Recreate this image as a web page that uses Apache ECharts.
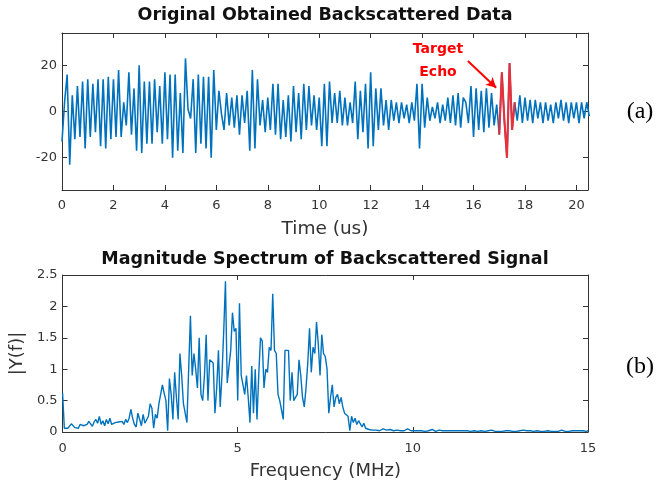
<!DOCTYPE html>
<html>
<head>
<meta charset="utf-8">
<script src="https://cdn.jsdelivr.net/npm/echarts@6/dist/echarts.min.js"></script>
<style>
  html, body { margin: 0; padding: 0; background: #fff; }
  #chart { width: 667px; height: 484px; }
</style>
</head>
<body>
<div id="chart"></div>
<script>
// sample spacing of the two traces
const timeStep = 0.1;  // us
const freqStep = 0.05; // MHz

// backscattered signal, 10 samples per microsecond
const signal = [
  -13, 4, 16, -23, 7, -12, 11, -11, 13, -16,
  14, -11, 12, -9, 14, -15, 14, -16, 15, -12,
  14, -11, 18, -11, 4, -6, 17, -10, 10, -17,
  20, -18, 13, -14, 13, -14, 14, -9, 11, -14,
  17, -12, 16, -20, 16, -17, 8, -18, 23, 1,
  -3, 14, -18, 16, -14, 15, -16, 15, -20, 18,
  -8, 9, -1, -8, 8, -6, 6, -7, 7, -10,
  7, -5, 9, -17, 18, -16, 14, -6, 5, -9,
  6, -8, 12, -10, 12, -12, 5, -11, 7, -13,
  11, -9, 8, -12, 12, -8, 11, -6, 7, -8,
  6, -15, 12, -15, 13, -5, 8, -5, 9, -6,
  6, -6, 4, -5, 13, -12, 9, -9, 12, -16,
  17, -15, 10, -8, 10, -6, 5, -8, 5, -4,
  4, -5, 4, -3, 3, -5, 4, -4, 12, -16,
  12, -7, 6, -4, 2, -3, 4, -5, 3, -4,
  6, -5, 7, -6, 8, -7, 6, 4, -5, 11,
  -11, 10, -8, 9, -9, 10, -7, 8, -6, 3,
  -10, 17, -4, -20, 21, -8, 4, -4, 7, -5,
  6, -4, 5, -5, 5, -3, 4, -5, 4, -4,
  3, -5, 4, -3, 5, -4, 4, -5, 4, -3,
  4, -5, 4, -3, 4, -2
];
// samples belonging to the target echo (drawn in red)
const echoFirst = 170;
const echoLast = 176;

// magnitude spectrum, 0 .. 15 MHz
const spectrum = [
  0.62, 0.06, 0.07, 0.06, 0.09, 0.13, 0.10, 0.07, 0.09, 0.06,
  0.12, 0.15, 0.10, 0.08, 0.12, 0.17, 0.13, 0.09, 0.16, 0.20,
  0.14, 0.25, 0.12, 0.18, 0.10, 0.20, 0.13, 0.22, 0.12, 0.10,
  0.15, 0.12, 0.16, 0.13, 0.17, 0.12, 0.20, 0.15, 0.22, 0.36,
  0.22, 0.12, 0.08, 0.30, 0.32, 0.10, 0.28, 0.14, 0.13, 0.25,
  0.45, 0.38, 0.06, 0.28, 0.22, 0.45, 0.60, 0.75, 0.62, 0.50,
  0.02, 0.85, 0.60, 0.20, 0.95, 0.55, 0.20, 1.25, 0.90, 0.45,
  0.45, 0.15, 1.00, 1.85, 0.90, 1.25, 1.00, 0.70, 1.50, 0.60,
  0.50, 0.90, 1.55, 0.50, 1.15, 1.12, 1.10, 0.30, 0.70, 1.30,
  0.40, 0.90, 1.60, 2.40, 0.78, 0.80, 1.30, 1.90, 1.60, 1.65,
  0.50, 2.05, 0.90, 0.75, 0.60, 0.90, 0.55, 0.15, 1.05, 0.30,
  1.00, 0.20, 0.90, 1.50, 1.45, 0.70, 1.00, 0.95, 1.35, 1.30,
  2.20, 1.30, 1.25, 0.60, 0.50, 0.48, 0.20, 1.30, 1.30, 1.30,
  0.50, 0.95, 0.50, 0.55, 0.60, 1.15, 0.90, 0.55, 0.40, 0.70,
  1.10, 1.65, 0.95, 1.35, 1.25, 1.75, 1.40, 0.90, 1.55, 1.25,
  1.20, 1.00, 0.30, 0.55, 0.75, 0.40, 0.55, 0.60, 0.45, 0.55,
  0.40, 0.30, 0.30, 0.25, 0.02, 0.25, 0.15, 0.22, 0.12, 0.18,
  0.15, 0.08, 0.14, 0.06, 0.08, 0.04, 0.07, 0.03, 0.05, 0.03,
  0.04, 0.02, 0.03, 0.05, 0.02, 0.03, 0.02, 0.04, 0.03, 0.02,
  0.02, 0.03, 0.01, 0.02, 0.03, 0.02, 0.04, 0.05, 0.02, 0.02,
  0.03, 0.02, 0.01, 0.02, 0.03, 0.02, 0.02, 0.01, 0.03, 0.02,
  0.02, 0.04, 0.02, 0.01, 0.02, 0.03, 0.02, 0.02, 0.01, 0.02,
  0.04, 0.02, 0.01, 0.02, 0.03, 0.02, 0.01, 0.02, 0.03, 0.02,
  0.01, 0.02, 0.03, 0.01, 0.02, 0.02, 0.03, 0.01, 0.02, 0.02,
  0.03, 0.01, 0.02, 0.02, 0.01, 0.03, 0.02, 0.01, 0.02, 0.01,
  0.02, 0.01, 0.01, 0.02, 0.03, 0.02, 0.01, 0.01, 0.02, 0.01,
  0.02, 0.02, 0.01, 0.03, 0.01, 0.02, 0.01, 0.02, 0.02, 0.01,
  0.01, 0.02, 0.02, 0.01, 0.02, 0.01, 0.02, 0.02, 0.01, 0.01,
  0.02, 0.01, 0.02, 0.01, 0.02, 0.03, 0.02, 0.01, 0.02, 0.01,
  0.02, 0.02, 0.01, 0.02, 0.03, 0.02, 0.01, 0.02, 0.02, 0.01,
  0.02
];

const timeTicks = [0, 2, 4, 6, 8, 10, 12, 14, 16, 18, 20];
const ampTicks = [-20, 0, 20];

const axisColor = '#333';
const font = 'DejaVu Sans';

const signalData = signal.map((v, i) => [+(i * timeStep).toFixed(2), v]);
const echoData = signalData.slice(echoFirst, echoLast + 1);
const spectrumData = spectrum.map((v, i) => [+(i * freqStep).toFixed(2), v]);

function boxAxis(gridIndex, position, labels, extra) {
  return Object.assign({
    type: 'value',
    gridIndex: gridIndex,
    position: position,
    axisLine: { show: true, onZero: false, lineStyle: { color: axisColor, width: 1 } },
    axisTick: { show: true, inside: true, length: 5, lineStyle: { color: axisColor } },
    axisLabel: { show: labels, color: axisColor, fontSize: 13, fontFamily: font },
    splitLine: { show: false }
  }, extra);
}

var myChart = echarts.init(document.getElementById('chart'), null, { renderer: 'canvas' });

var option = {
  animation: false,
  backgroundColor: '#fff',
  textStyle: { fontFamily: font },
  grid: [
    { left: 62, top: 33, width: 526, height: 157 },
    { left: 62, top: 275, width: 526, height: 157 }
  ],
  xAxis: [
    boxAxis(0, 'bottom', true, {
      min: 0, max: 20.45,
      axisTick: { show: true, inside: true, length: 5, customValues: timeTicks, lineStyle: { color: axisColor } },
      axisLabel: { show: true, margin: 9, color: axisColor, fontSize: 13, fontFamily: font, customValues: timeTicks },
      name: 'Time (us)', nameLocation: 'middle', nameGap: 30,
      nameTextStyle: { color: '#333', fontSize: 18.5, fontFamily: font }
    }),
    boxAxis(0, 'top', false, {
      min: 0, max: 20.45,
      axisTick: { show: true, inside: true, length: 5, customValues: timeTicks, lineStyle: { color: axisColor } }
    }),
    boxAxis(1, 'bottom', true, {
      min: 0, max: 15, interval: 5,
      axisLabel: { show: true, margin: 10, color: axisColor, fontSize: 13, fontFamily: font },
      name: 'Frequency (MHz)', nameLocation: 'middle', nameGap: 30,
      nameTextStyle: { color: '#333', fontSize: 18, fontFamily: font }
    }),
    boxAxis(1, 'top', false, { min: 0, max: 15, interval: 5 })
  ],
  yAxis: [
    boxAxis(0, 'left', true, {
      min: -34, max: 34,
      axisTick: { show: true, inside: true, length: 5, customValues: ampTicks, lineStyle: { color: axisColor } },
      axisLabel: { show: true, margin: 5, color: axisColor, fontSize: 13, fontFamily: font, customValues: ampTicks }
    }),
    boxAxis(0, 'right', false, {
      min: -34, max: 34,
      axisTick: { show: true, inside: true, length: 5, customValues: ampTicks, lineStyle: { color: axisColor } }
    }),
    boxAxis(1, 'left', true, {
      min: 0, max: 2.5, interval: 0.5,
      axisLabel: { show: true, margin: 5, color: axisColor, fontSize: 13, fontFamily: font },
      name: '|Y(f)|', nameLocation: 'middle', nameGap: 36,
      nameTextStyle: { color: '#333', fontSize: 18, fontFamily: font }
    }),
    boxAxis(1, 'right', false, { min: 0, max: 2.5, interval: 0.5 })
  ],
  series: [
    {
      type: 'line', xAxisIndex: 0, yAxisIndex: 0,
      data: signalData, showSymbol: false,
      lineStyle: { color: '#0072bd', width: 1.6 }
    },
    {
      type: 'line', xAxisIndex: 0, yAxisIndex: 0,
      data: echoData, showSymbol: false,
      lineStyle: { color: '#e8303a', width: 2.1 },
      markLine: {
        silent: true,
        symbol: ['none', 'arrow'],
        symbolSize: [8, 10],
        label: { show: false },
        lineStyle: { color: '#ff0000', width: 2, type: 'solid' },
        data: [[{ coord: [15.78, 21.9] }, { coord: [16.88, 10.3] }]]
      }
    },
    {
      type: 'line', xAxisIndex: 2, yAxisIndex: 2,
      data: spectrumData, showSymbol: false,
      lineStyle: { color: '#0072bd', width: 1.4 }
    }
  ],
  graphic: [
    { type: 'text', x: 325, y: 15, style: { text: 'Original Obtained Backscattered Data', font: 'bold 17.5px DejaVu Sans', fill: '#111', align: 'center', verticalAlign: 'middle' } },
    { type: 'text', x: 325, y: 259, style: { text: 'Magnitude Spectrum of Backscattered Signal', font: 'bold 17.5px DejaVu Sans', fill: '#111', align: 'center', verticalAlign: 'middle' } },
    { type: 'text', x: 438, y: 49, style: { text: 'Target', font: 'bold 14px DejaVu Sans', fill: '#ff0000', align: 'center', verticalAlign: 'middle' } },
    { type: 'text', x: 438, y: 72, style: { text: 'Echo', font: 'bold 14px DejaVu Sans', fill: '#ff0000', align: 'center', verticalAlign: 'middle' } },
    { type: 'text', x: 640, y: 112, style: { text: '(a)', font: '24px Liberation Serif', fill: '#000', align: 'center', verticalAlign: 'middle' } },
    { type: 'text', x: 640, y: 367, style: { text: '(b)', font: '24px Liberation Serif', fill: '#000', align: 'center', verticalAlign: 'middle' } }
  ]
};

option && myChart.setOption(option);
</script>
</body>
</html>
